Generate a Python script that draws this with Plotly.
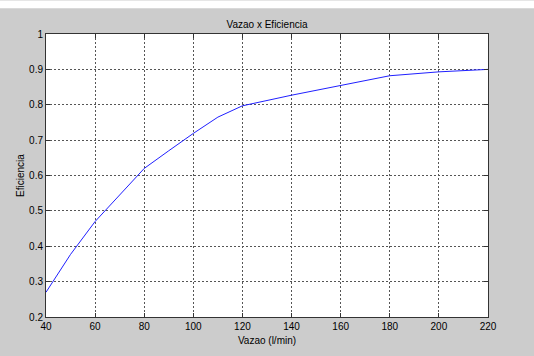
import plotly.graph_objects as go

vazao = [40, 50, 60, 70, 80, 90, 100, 110, 120, 140, 160, 180, 200, 220]
eficiencia = [0.27, 0.377, 0.47, 0.545, 0.62, 0.67, 0.719, 0.765, 0.797, 0.827, 0.855, 0.882, 0.893, 0.9]
x_ticks = [40, 60, 80, 100, 120, 140, 160, 180, 200, 220]
y_ticks = [0.2, 0.3, 0.4, 0.5, 0.6, 0.7, 0.8, 0.9, 1]
y_tick_text = ["0.2", "0.3", "0.4", "0.5", "0.6", "0.7", "0.8", "0.9", "1"]

W, H = 534, 356
ml, mr, mt, mb = 46, 46, 34, 35
ph = H - mt - mb

fig = go.Figure()
fig.add_trace(go.Scatter(x=vazao, y=eficiencia, mode="lines",
                         line=dict(color="#2020ff", width=1), showlegend=False))

font = dict(family="Liberation Sans, Arial, sans-serif", size=10, color="#000000")
axis_common = dict(showline=True, linecolor="#333333", linewidth=1, mirror="ticks",
                   ticks="inside", ticklen=4, tickcolor="#333333",
                   showgrid=True, gridcolor="#555555", griddash="2px,2px", gridwidth=1,
                   zeroline=False, tickfont=font)

fig.update_layout(
    width=W, height=H,
    margin=dict(l=ml, r=mr, t=mt, b=mb),
    paper_bgcolor="#cccccc", plot_bgcolor="#ffffff",
    title=dict(text="Vazao x Eficiencia", x=0.5, xref="paper", xanchor="center",
               y=1 - 24 / H, yanchor="middle", font=font),
    xaxis=dict(range=[40, 220], tickvals=x_ticks, **axis_common,
               title=dict(text="Vazao (l/min)", font=font, standoff=5)),
    yaxis=dict(range=[0.2, 1], tickvals=y_ticks, ticktext=y_tick_text, **axis_common,
               title=dict(text="Eficiencia", font=font, standoff=2)),
    shapes=[dict(type="rect", xref="paper", yref="paper",
                 x0=-ml / (W - ml - mr), x1=1 + mr / (W - ml - mr),
                 y0=1 + (mt - 8) / ph, y1=1 + mt / ph,
                 fillcolor="#ffffff", line=dict(width=0), layer="below")],
)

fig.write_html("out.html")
